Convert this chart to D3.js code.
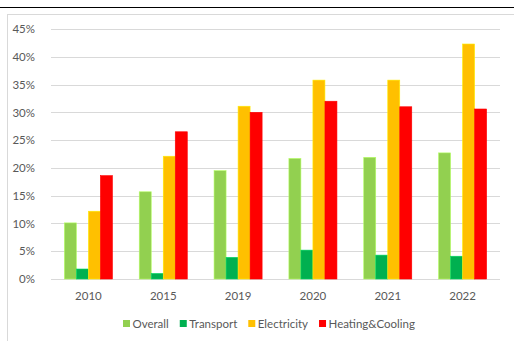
<!DOCTYPE html>
<meta charset="utf-8">
<style>
    body { margin: 0; background: #fff; overflow: hidden; }
    text { font-family: Lato, "Open Sans", sans-serif; fill: #595959; }
</style>
<svg id="canvas" width="514" height="341"></svg>
<script src="https://d3js.org/d3.v7.min.js"></script>
<script>

    var years = ["2010", "2015", "2019", "2020", "2021", "2022"];
    var seriesNames = ["Overall", "Transport", "Electricity", "Heating&Cooling"];
    var overall     = [10.1, 15.7, 19.5, 21.7, 21.9, 22.7];
    var transport   = [1.8, 1.0, 3.9, 5.2, 4.3, 4.1];
    var electricity = [12.2, 22.1, 31.1, 35.8, 35.8, 42.3];
    var heating     = [18.6, 26.5, 30.0, 32.0, 31.0, 30.6];
    var yTicks = [0, 5, 10, 15, 20, 25, 30, 35, 40, 45];
    var colors = ["#92d050", "#00b050", "#ffc000", "#ff0000"];

    var seriesValues = [overall, transport, electricity, heating];

    var svg = d3.select("svg");

    // page line + chart frame
    svg.append("line").attr("x1", 0).attr("x2", 514).attr("y1", 7.5).attr("y2", 7.5)
       .attr("stroke", "#000").attr("stroke-width", 1.2);
    svg.append("rect").attr("x", 7.5).attr("y", 14.5).attr("width", 520).attr("height", 340)
       .attr("fill", "none").attr("stroke", "#d9d9d9");

    var plotLeft = 51, plotRight = 500, plotTop = 29, plotBottom = 279;

    var x = d3.scaleBand().domain(years).range([plotLeft, plotRight])
              .paddingInner(0.358).paddingOuter(0.179);
    var xs = d3.scaleBand().domain(seriesNames).range([0, x.bandwidth()]);
    var y = d3.scaleLinear().domain([0, 45]).range([plotBottom, plotTop]);

    // grid
    svg.append("g").selectAll("line").data(yTicks).enter().append("line")
       .attr("x1", plotLeft).attr("x2", plotRight)
       .attr("y1", function(d) { return Math.round(y(d)) + 0.5; })
       .attr("y2", function(d) { return Math.round(y(d)) + 0.5; })
       .attr("stroke", "#d9d9d9").attr("stroke-width", 1);

    var yAxis = svg.append("g").attr("transform", "translate(" + (plotLeft - 13) + ",0)")
       .call(d3.axisLeft(y).tickValues(yTicks).tickSize(0).tickFormat(function(d) { return d + "%"; }));
    yAxis.select(".domain").remove();
    yAxis.selectAll("text").attr("font-size", 11.5).style("font-family", "Lato, sans-serif").attr("fill", "#595959");

    var xAxis = svg.append("g").attr("transform", "translate(0," + (plotBottom + 10) + ")")
       .call(d3.axisBottom(x).tickSize(0));
    xAxis.select(".domain").remove();
    xAxis.selectAll("text").attr("font-size", 11.5).style("font-family", "Lato, sans-serif").attr("fill", "#595959");

    // bars
    seriesNames.forEach(function(name, si) {
        svg.append("g").selectAll("rect").data(seriesValues[si]).enter().append("rect")
           .attr("x", function(d, i) { return x(years[i]) + xs(name); })
           .attr("width", xs.bandwidth())
           .attr("y", function(d) { return y(d); })
           .attr("height", function(d) { return plotBottom - y(d); })
           .attr("fill", colors[si])
           .attr("stroke", d3.color(colors[si]).brighter(0.6))
           .attr("stroke-width", 0.6);
    });

    // legend
    var legend = svg.append("g").attr("transform", "translate(0,324)");
    var lx = 123;
    seriesNames.forEach(function(name, si) {
        legend.append("rect").attr("x", lx).attr("y", -4).attr("width", 7).attr("height", 7)
              .attr("fill", colors[si]);
        var t = legend.append("text").attr("x", lx + 9.5).attr("y", 0).attr("dy", "0.35em")
              .attr("font-size", 11.5).text(name);
        lx += 9.5 + t.node().getComputedTextLength() + 11;
    });

</script>
